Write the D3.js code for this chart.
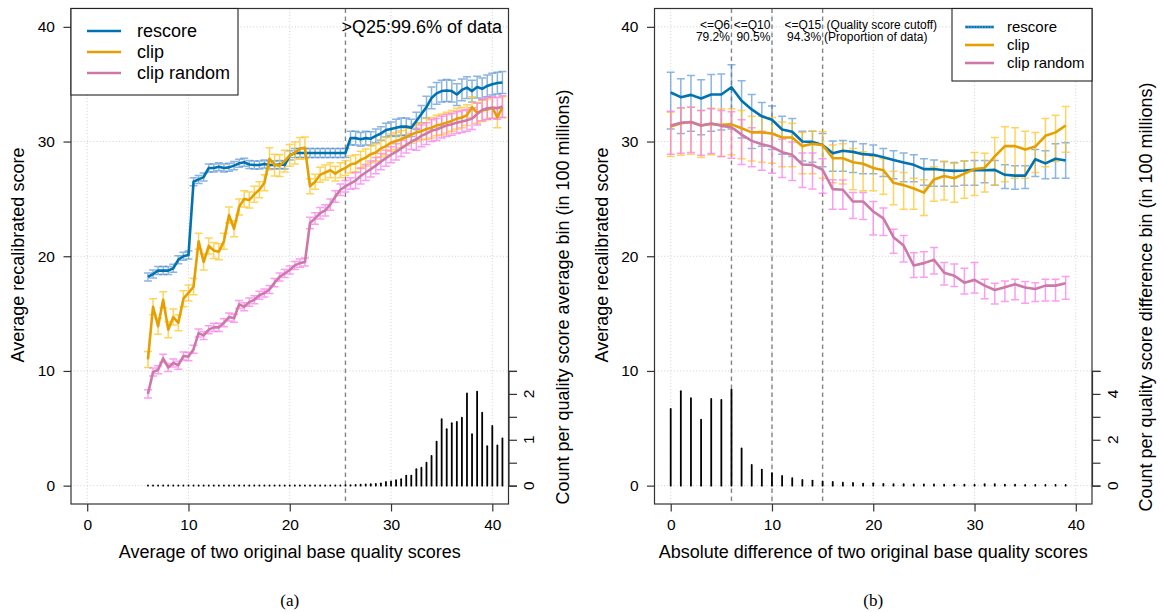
<!DOCTYPE html>
<html>
<head>
<meta charset="utf-8">
<script src="https://cdn.jsdelivr.net/npm/d3@7"></script>
<style>
  html, body { margin: 0; padding: 0; background: #fff; }
  svg { display: block; font-family: "Liberation Sans", Arial, Helvetica, sans-serif; }
</style>
</head>
<body>
<svg id="chart" width="1160" height="613"></svg>
<script>
// ---------- (a) bins: average of two original base quality scores ----------
const avgBins = [6,6.5,7,7.5,8,8.5,9,9.5,10,10.5,11,11.5,12,12.5,13,13.5,14,14.5,15,15.5,16,16.5,17,17.5,18,18.5,19,19.5,20,20.5,21,21.5,22,22.5,23,23.5,24,24.5,25,25.5,26,26.5,27,27.5,28,28.5,29,29.5,30,30.5,31,31.5,32,32.5,33,33.5,34,34.5,35,35.5,36,36.5,37,37.5,38,38.5,39,39.5,40,40.5,41];

const avgRescore = [18.2,18.45,18.75,18.75,18.75,18.95,19.7,20.0,20.1,
  26.5,26.7,26.9,27.7,27.7,27.8,27.7,27.75,27.9,28.1,28.2,28.0,27.95,27.95,28.05,27.95,27.95,28.0,27.95,
  28.8,
  29.0,29.0,29.0,29.0,29.0,29.0,29.0,29.0,29.0,29.0,29.0,
  30.3,30.3,30.2,30.3,30.25,30.5,30.7,31.0,31.1,
  31.2,31.3,31.3,31.2,31.8,32.4,33.0,33.8,34.2,34.4,34.45,34.4,34.1,34.5,34.7,34.4,34.75,34.6,34.85,35.0,35.1,35.15];
const avgRescoreErr = [0.35,0.35,0.35,0.35,0.35,0.35,0.35,0.35,0.35,0.35,0.35,0.35,0.35,0.35,0.35,0.35,0.35,0.35,0.35,0.35,0.35,0.35,0.35,0.35,0.35,0.35,0.35,0.35,
  0.4,0.4,0.4,0.4,0.4,0.4,0.4,0.4,0.4,0.4,0.4,0.4,
  0.6,0.6,0.6,0.6,0.6,0.6,0.6,0.6,0.6,
  0.75,0.75,0.75,0.75,0.75,0.75,
  0.95,0.95,0.95,0.95,0.95,0.95,0.95,0.95,0.95,0.95,0.95,0.95,0.95,0.95,0.95,0.95];

const avgClip = [11.0,15.6,13.9,16.2,13.6,14.7,14.2,16.3,16.8,
  17.35,21.3,19.5,20.9,20.5,20.4,21.3,23.6,22.4,24.3,25.0,24.9,25.4,25.8,26.4,28.5,27.95,27.9,28.3,
  28.8,
  29.0,29.4,29.45,26.1,26.5,27.1,27.3,27.5,27.2,27.5,27.7,
  28.0,28.1,28.4,28.6,28.9,29.05,29.4,29.6,29.9,
  30.05,30.2,30.4,30.6,30.8,30.9,31.1,31.2,31.4,31.5,31.65,31.8,32.0,32.1,32.3,33.0,32.5,32.7,32.8,32.95,32.1,33.0];
const avgClipErr = [0.7,0.7,0.7,0.7,0.7,0.7,0.7,0.7,0.7,0.7,0.7,0.7,0.7,0.7,0.7,0.7,0.7,0.7,0.7,0.7,0.7,0.7,0.7,0.7,
  0.95,0.95,0.95,0.95,0.95,0.95,0.95,0.95,
  0.65,0.65,0.65,0.65,0.65,0.65,0.65,0.65,
  0.75,0.75,0.75,0.75,0.75,0.75,0.75,0.75,0.75,0.75,0.75,0.75,0.75,0.75,0.75,
  0.9,0.9,0.9,0.9,0.9,0.9,0.9,0.9,0.9,0.9,0.9,0.9,0.9,0.9,0.9,0.9];

const avgRandom = [8.0,9.9,10.1,11.1,10.3,10.7,10.5,11.3,11.25,
  11.9,13.3,13.1,13.6,13.8,13.8,14.2,14.7,14.6,15.8,15.6,16.0,16.2,16.6,16.8,17.1,17.7,18.2,18.5,
  18.8,
  19.2,19.4,19.5,22.9,23.3,23.75,24.0,24.5,25.2,25.8,26.1,
  26.35,26.6,27.0,27.3,27.6,27.9,28.25,28.55,28.85,
  29.1,29.4,29.7,30.0,30.2,30.5,30.7,30.95,31.05,31.25,31.4,31.5,31.65,31.75,31.85,32.0,32.4,32.75,32.9,32.95,32.9,33.05];
const avgRandomErr = [0.35,0.35,0.35,0.35,0.35,0.35,0.35,0.35,0.35,0.35,0.35,0.35,0.35,0.35,0.35,0.35,0.35,0.35,0.35,0.35,0.35,0.35,0.35,0.35,0.35,0.35,0.35,0.35,0.35,0.35,0.35,0.35,
  0.5,0.5,0.5,0.5,0.5,0.5,0.5,0.5,0.5,
  0.7,0.7,0.7,0.7,0.7,0.7,0.7,0.7,0.7,0.7,0.7,0.7,
  0.95,0.95,0.95,0.95,0.95,0.95,0.95,0.95,0.95,0.95,0.95,0.95,0.95,0.95,0.95,0.95,0.95,0.95];

// count per average bin, in 100 millions
const avgCount = [0.005,0.005,0.005,0.005,0.005,0.005,0.005,0.005,0.005,0.005,0.005,0.005,0.005,0.005,0.005,0.005,0.005,0.005,0.005,0.005,
  0.005,0.005,0.005,0.005,0.005,0.005,0.005,0.005,0.005,0.005,0.005,0.005,0.005,0.005,0.005,0.005,0.005,0.005,0.005,
  0.01,0.012,0.015,0.02,0.025,0.03,0.04,0.05,0.08,0.095,0.12,0.14,0.22,0.22,0.36,0.39,0.50,0.65,0.96,1.45,1.23,1.36,1.39,1.48,2.01,1.12,2.05,1.59,0.86,1.30,0.876,1.03];

// ---------- (b) bins: absolute difference of two original base quality scores ----------
const diffBins = [0,1,2,3,4,5,6,7,8,9,10,11,12,13,14,15,16,17,18,19,20,21,22,23,24,25,26,27,28,29,30,31,32,33,34,35,36,37,38,39];

const diffRescore   = [34.28,33.87,34.07,33.75,34.1,34.1,34.74,33.55,32.8,32.2,31.9,31.05,30.85,30.0,29.97,29.7,28.98,29.2,29.1,28.9,28.84,28.63,28.4,28.17,27.97,27.6,27.6,27.5,27.44,27.47,27.53,27.5,27.53,27.1,27.03,27.03,28.46,28.1,28.5,28.34];
const diffRescoreHi = [36.05,35.47,35.76,35.38,35.85,35.9,36.7,35.3,34.1,33.4,33.1,32.2,32.0,30.9,30.9,30.7,30.05,30.1,30.0,29.8,29.7,29.4,29.2,29.0,28.84,28.5,28.4,28.26,28.17,28.3,28.35,28.35,28.35,27.97,27.9,27.9,29.3,29.2,29.8,29.9];
const diffRescoreLo = [31.1,30.7,30.9,30.6,30.9,31.0,31.1,30.3,29.4,29.6,29.3,28.9,28.7,28.3,28.2,27.8,27.4,27.4,27.3,27.2,27.2,26.95,26.75,26.5,26.5,26.2,26.1,26.1,26.1,26.2,26.2,26.4,26.2,25.9,25.85,25.9,26.95,26.75,26.8,26.8];

const diffClip   = [31.3,31.6,31.7,31.4,31.54,31.45,31.5,31.16,30.8,30.8,30.7,30.35,30.35,29.6,29.8,29.7,28.55,28.55,28.2,28.06,27.7,27.5,26.4,26.2,25.9,25.55,26.7,27.0,26.8,27.2,27.6,27.7,28.7,29.6,29.6,29.3,29.56,30.5,30.8,31.4];
const diffClipHi = [32.56,32.9,33.0,32.7,32.9,32.85,32.85,32.7,32.2,32.2,32.1,31.7,31.6,30.8,30.9,30.87,29.7,29.8,29.4,29.1,28.7,28.5,27.4,27.3,26.8,26.66,27.8,28.26,28.1,28.3,29.04,28.98,30.35,31.3,31.2,30.9,30.8,32.0,32.3,33.05];
const diffClipLo = [28.7,28.8,28.9,28.6,28.85,28.7,28.85,28.5,28.3,28.2,28.1,27.8,27.8,27.2,27.2,26.8,26.4,26.3,25.8,25.7,25.7,25.4,24.5,24.1,24.1,23.55,24.8,24.9,24.7,25.06,25.3,25.6,26.2,26.5,26.8,26.8,27.3,27.8,28.26,29.07];

const diffRandom   = [31.4,31.63,31.7,31.4,31.57,31.37,31.25,30.6,30.06,29.77,29.54,29.07,28.84,28.0,27.97,27.53,25.85,25.8,24.77,24.77,23.9,23.3,21.66,20.93,19.19,19.4,19.7,18.57,18.3,17.7,17.94,17.44,17.06,17.3,17.56,17.27,17.15,17.44,17.44,17.65];
const diffRandomHi = [32.65,32.95,33.0,32.7,32.87,32.7,32.6,31.9,31.2,30.9,30.7,30.2,29.95,29.0,29.0,28.5,26.66,26.65,25.55,25.55,24.77,24.2,22.36,21.8,20.3,20.4,20.76,19.45,19.33,18.95,19.45,18.0,17.65,17.85,18.0,17.8,17.7,18.0,18.0,18.23];
const diffRandomLo = [28.9,28.98,29.04,28.8,28.95,28.7,28.55,28.0,27.8,27.5,27.24,26.86,26.6,26.0,25.87,25.5,24.1,24.1,23.3,23.2,21.86,21.8,20.26,19.5,18.14,18.17,18.46,17.5,17.36,16.7,16.8,16.3,15.84,16.05,16.2,15.9,16.05,16.1,16.1,16.26];

// count per difference bin, in 100 millions
const diffCount = [3.35,4.12,3.81,2.88,3.78,3.74,4.19,1.62,0.90,0.70,0.54,0.42,0.33,0.25,0.22,0.17,0.16,0.13,0.12,0.09,0.1,0.08,0.07,0.06,0.05,0.05,0.05,0.04,0.04,0.04,0.04,0.06,0.07,0.04,0.04,0.03,0.03,0.03,0.03,0.03];

// axis ticks
const scoreTicks = [0, 10, 20, 30, 40];
const avgCountTicks = [0, 0.5, 1, 1.5, 2, 2.5];
const avgCountLabels = [0, 1, 2];
const diffCountTicks = [0, 1, 2, 3, 4, 5];
const diffCountLabels = [0, 2, 4];

// cutoff annotations
const avgCutoffs = [25.5];
const diffCutoffs = [6, 10, 15];
const diffCutoffNames = ["<=Q6", "<=Q10", "<=Q15"];
const diffCutoffShares = ["79.2%", "90.5%", "94.3%"];

const seriesNames = ["rescore", "clip", "clip random"];
const lineColors = ["#0072B2", "#E69F00", "#CC79A7"];
const barColors  = ["rgba(70,135,205,0.62)", "rgba(255,196,30,0.72)", "rgba(250,120,235,0.72)"];

// ---------- drawing ----------
const svg = d3.select("#chart");
const TOP = 8.5, BOTTOM = 504;
const FONT_TICK = 15.5, FONT_TITLE = 18;

function drawPanel(cfg) {
  const g = svg.append("g");
  const x = d3.scaleLinear().domain([-1.6, 41.6]).range([cfg.left, cfg.right]);
  const y = d3.scaleLinear().domain([-1.6, 41.6]).range([BOTTOM, TOP]);
  const yc = d3.scaleLinear().domain([0, cfg.countMax]).range([y(0), y(10)]);

  // dotted grid
  const grid = g.append("g").attr("stroke", "#cfcfcf").attr("stroke-width", 1).attr("stroke-dasharray", "1,2.2");
  scoreTicks.forEach(t => {
    grid.append("line").attr("x1", x(t)).attr("x2", x(t)).attr("y1", TOP).attr("y2", BOTTOM);
    grid.append("line").attr("x1", cfg.left).attr("x2", cfg.right).attr("y1", y(t)).attr("y2", y(t));
  });

  // cutoff lines
  cfg.cutoffs.forEach(c => {
    g.append("line").attr("x1", x(c)).attr("x2", x(c)).attr("y1", TOP).attr("y2", BOTTOM)
      .attr("stroke", "#858585").attr("stroke-width", 1.4).attr("stroke-dasharray", "4.5,3.5");
  });

  // count histogram
  g.append("g").selectAll("line").data(cfg.bins).join("line")
    .attr("x1", d => x(d)).attr("x2", d => x(d))
    .attr("y1", yc(0)).attr("y2", (d, i) => yc(cfg.count[i]))
    .attr("stroke", "#000").attr("stroke-width", 1.8).attr("stroke-linecap", "round");

  // error bars
  const cap = 4;
  cfg.series.forEach((s, k) => {
    const eb = g.append("g").attr("stroke", barColors[k]).attr("stroke-width", 1.5).attr("fill", "none");
    cfg.bins.forEach((b, i) => {
      const xi = x(b), yh = y(s.hi[i]), yl = y(s.lo[i]);
      eb.append("path").attr("d",
        `M${xi},${yh}V${yl}M${xi - cap},${yh}H${xi + cap}M${xi - cap},${yl}H${xi + cap}`);
    });
  });

  // mean lines
  cfg.series.forEach((s, k) => {
    const line = d3.line().x((d, i) => x(cfg.bins[i])).y(d => y(d));
    g.append("path").datum(s.mean).attr("d", line)
      .attr("fill", "none").attr("stroke", lineColors[k]).attr("stroke-width", 2.6)
      .attr("stroke-linejoin", "round");
  });

  // box
  g.append("rect").attr("x", cfg.left).attr("y", TOP)
    .attr("width", cfg.right - cfg.left).attr("height", BOTTOM - TOP)
    .attr("fill", "none").attr("stroke", "#333").attr("stroke-width", 1.2);

  // left axis
  const ax = g.append("g").attr("transform", `translate(${cfg.left},0)`)
    .call(d3.axisLeft(y).tickValues(scoreTicks).tickSize(7.5).tickPadding(8.5));
  ax.select(".domain").remove();
  ax.selectAll("line").attr("stroke", "#333").attr("stroke-width", 1.2);
  ax.selectAll("text").attr("font-size", FONT_TICK).attr("font-family", "Liberation Sans, Arial, sans-serif").attr("fill", "#000");

  // bottom axis
  const bx = g.append("g").attr("transform", `translate(0,${BOTTOM})`)
    .call(d3.axisBottom(x).tickValues(scoreTicks).tickSize(7.5).tickPadding(7.5));
  bx.select(".domain").remove();
  bx.selectAll("line").attr("stroke", "#333").attr("stroke-width", 1.2);
  bx.selectAll("text").attr("font-size", FONT_TICK).attr("font-family", "Liberation Sans, Arial, sans-serif").attr("fill", "#000");

  // right count axis
  const rx = g.append("g").attr("transform", `translate(${cfg.right},0)`)
    .call(d3.axisRight(yc).tickValues(cfg.countTicks).tickSize(8.5).tickFormat(""));
  rx.select(".domain").attr("stroke", "#333").attr("stroke-width", 1.2);
  rx.selectAll("line").attr("stroke", "#333").attr("stroke-width", 1.2);
  cfg.countLabels.forEach(v => {
    g.append("text").attr("transform", `translate(${cfg.right + 20},${yc(v)}) rotate(-90)`)
      .attr("text-anchor", "middle").attr("dy", "0.36em").attr("font-size", FONT_TICK).text(v);
  });

  // titles
  g.append("text").attr("x", (cfg.left + cfg.right) / 2).attr("y", 558)
    .attr("text-anchor", "middle").attr("font-size", FONT_TITLE).text(cfg.xTitle);
  g.append("text").attr("transform", `translate(${cfg.left - 53},255) rotate(-90)`)
    .attr("text-anchor", "middle").attr("dy", "0.36em").attr("font-size", FONT_TITLE).text("Average recalibrated score");
  g.append("text").attr("transform", `translate(${cfg.right + 54},297) rotate(-90)`)
    .attr("text-anchor", "middle").attr("dy", "0.36em").attr("font-size", FONT_TITLE).text(cfg.countTitle);

  // panel caption
  g.append("text").attr("x", (cfg.left + cfg.right) / 2).attr("y", 606)
    .attr("text-anchor", "middle").attr("font-size", 17)
    .attr("font-family", "Liberation Serif, DejaVu Serif, serif").text(cfg.caption);

  return { g, x, y };
}

function drawLegend(g, lg) {
  g.append("rect").attr("x", lg.x0).attr("y", TOP).attr("width", lg.x1 - lg.x0).attr("height", lg.y1 - TOP)
    .attr("fill", "#fff").attr("stroke", "#222").attr("stroke-width", 1.1);
  seriesNames.forEach((name, k) => {
    const yy = lg.rows[k];
    g.append("line").attr("x1", lg.lx0).attr("x2", lg.lx1).attr("y1", yy).attr("y2", yy)
      .attr("stroke", lineColors[k]).attr("stroke-width", 2.6);
    if (lg.dottedFirst && k === 0) {
      g.append("line").attr("x1", lg.lx0).attr("x2", lg.lx1).attr("y1", yy).attr("y2", yy)
        .attr("stroke", "#8fbfe6").attr("stroke-width", 1).attr("stroke-dasharray", "1.2,1.6");
    }
    g.append("text").attr("x", lg.tx).attr("y", yy).attr("dy", "0.35em")
      .attr("font-size", lg.size).text(name);
  });
}

// panel (a)
const pa = drawPanel({
  left: 71, right: 508.5, bins: avgBins, count: avgCount, countMax: 2.5,
  countTicks: avgCountTicks, countLabels: avgCountLabels, cutoffs: avgCutoffs,
  series: [
    { mean: avgRescore, hi: avgRescore.map((v, i) => v + avgRescoreErr[i]), lo: avgRescore.map((v, i) => v - avgRescoreErr[i]) },
    { mean: avgClip, hi: avgClip.map((v, i) => v + avgClipErr[i]), lo: avgClip.map((v, i) => v - avgClipErr[i]) },
    { mean: avgRandom, hi: avgRandom.map((v, i) => v + avgRandomErr[i]), lo: avgRandom.map((v, i) => v - avgRandomErr[i]) }
  ],
  xTitle: "Average of two original base quality scores",
  countTitle: "Count per quality score average bin (in 100 millions)",
  caption: "(a)"
});
pa.g.append("text").attr("x", 502).attr("y", 32.5).attr("text-anchor", "end")
  .attr("font-size", 18).text(">Q25:99.6% of data");
drawLegend(pa.g, { x0: 71, x1: 238, y1: 95, lx0: 87, lx1: 121, tx: 137, rows: [31, 52, 73], size: 18 });

// panel (b)
const pb = drawPanel({
  left: 654.5, right: 1092, bins: diffBins, count: diffCount, countMax: 5,
  countTicks: diffCountTicks, countLabels: diffCountLabels, cutoffs: diffCutoffs,
  series: [
    { mean: diffRescore, hi: diffRescoreHi, lo: diffRescoreLo },
    { mean: diffClip, hi: diffClipHi, lo: diffClipLo },
    { mean: diffRandom, hi: diffRandomHi, lo: diffRandomLo }
  ],
  xTitle: "Absolute difference of two original base quality scores",
  countTitle: "Count per quality score difference bin (in 100 millions)",
  caption: "(b)"
});
diffCutoffs.forEach((c, i) => {
  pb.g.append("text").attr("x", pb.x(c) - 1.5).attr("y", 29).attr("text-anchor", "end")
    .attr("font-size", 12).text(diffCutoffNames[i]);
  pb.g.append("text").attr("x", pb.x(c) - 1.5).attr("y", 41).attr("text-anchor", "end")
    .attr("font-size", 12).text(diffCutoffShares[i]);
});
pb.g.append("text").attr("x", pb.x(15) + 4).attr("y", 29).attr("font-size", 12).text("(Quality score cutoff)");
pb.g.append("text").attr("x", pb.x(15) + 1.5).attr("y", 41).attr("font-size", 12).text("(Proportion of data)");
drawLegend(pb.g, { x0: 952, x1: 1092, y1: 81, lx0: 965, lx1: 994, tx: 1007, rows: [27, 45, 63], size: 15, dottedFirst: true });
</script>
</body>
</html>
